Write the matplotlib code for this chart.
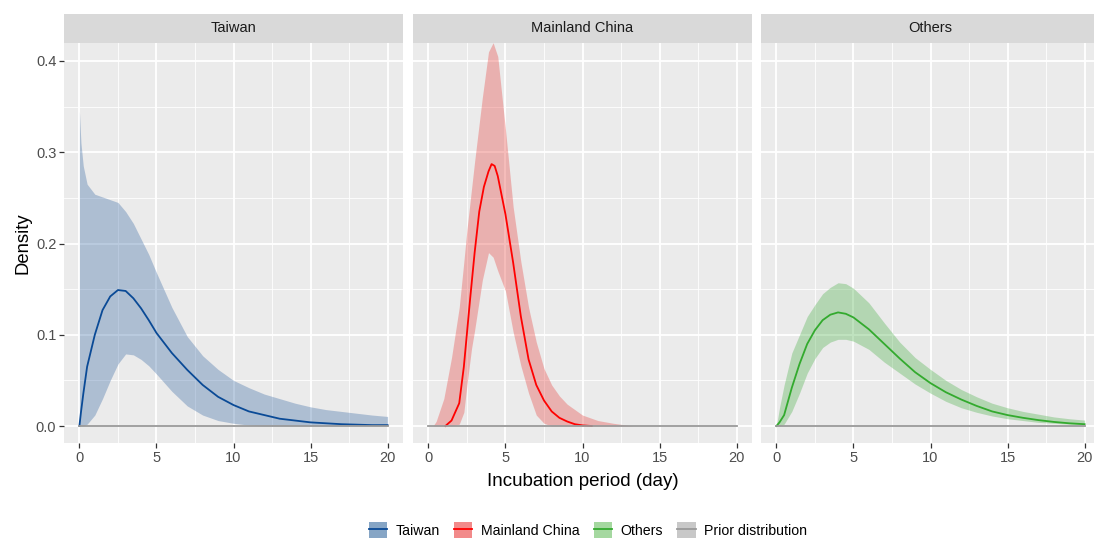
import matplotlib
matplotlib.use("Agg")
import matplotlib.pyplot as plt
from matplotlib.patches import Patch
from matplotlib.lines import Line2D

plt.rcParams['font.family'] = ['Liberation Sans', 'DejaVu Sans']

# Taiwan
tw_x = [0, 0.1, 0.25, 0.5, 1, 1.5, 2, 2.5, 3, 3.5, 4, 4.5, 5, 6, 7, 8, 9, 10, 11, 12, 13, 14, 15, 16, 17, 18, 19, 20]
tw_hi = [0.345, 0.31, 0.285, 0.265, 0.254, 0.251, 0.248, 0.245, 0.235, 0.222, 0.205, 0.188, 0.168, 0.13, 0.098, 0.077,
         0.062, 0.05, 0.042, 0.035, 0.03, 0.025, 0.021, 0.018, 0.016, 0.014, 0.012, 0.0105]
tw_lo = [0, 0, 0, 0.002, 0.012, 0.03, 0.05, 0.068, 0.079, 0.078, 0.073, 0.066, 0.057, 0.038, 0.022, 0.012,
         0.006, 0.003, 0.001, 0, 0, 0, 0, 0, 0, 0, 0, 0]
tw_med = [0, 0.015, 0.035, 0.065, 0.10, 0.127, 0.142, 0.149, 0.148, 0.14, 0.129, 0.116, 0.102, 0.08, 0.0615, 0.045,
          0.032, 0.023, 0.016, 0.012, 0.008, 0.006, 0.004, 0.003, 0.002, 0.0015, 0.001, 0.001]

# Mainland China
cn_x = [0.3, 0.5, 1, 1.5, 2, 2.3, 2.5, 2.8, 3, 3.5, 3.9, 4.2, 4.5, 5, 5.5, 6, 6.5, 7, 7.5, 8, 8.5, 9, 10, 11, 12, 13.3]
cn_hi = [0, 0.005, 0.03, 0.075, 0.13, 0.18, 0.215, 0.26, 0.29, 0.36, 0.41, 0.42, 0.405, 0.325, 0.24, 0.18, 0.13,
         0.092, 0.063, 0.045, 0.033, 0.024, 0.012, 0.006, 0.003, 0]
cn_lo = [0, 0, 0, 0, 0.002, 0.015, 0.045, 0.085, 0.105, 0.16, 0.19, 0.185, 0.17, 0.148, 0.103, 0.066, 0.036,
         0.012, 0.003, 0, 0, 0, 0, 0, 0, 0]
cn_mx = [1.1, 1.5, 2, 2.3, 2.7, 3, 3.3, 3.6, 3.9, 4.1, 4.3, 4.5, 5, 5.5, 6, 6.5, 7, 7.5, 8, 8.5, 9, 9.5, 10, 10.6]
cn_med = [0, 0.006, 0.025, 0.065, 0.138, 0.19, 0.235, 0.262, 0.279, 0.287, 0.285, 0.274, 0.232, 0.179, 0.12, 0.073,
          0.045, 0.028, 0.016, 0.009, 0.005, 0.002, 0.0007, 0]

# Others
ot_x = [0, 0.2, 0.5, 1, 1.5, 2, 2.5, 3, 3.5, 4, 4.5, 5, 6, 7, 8, 9, 10, 11, 12, 13, 14, 15, 16, 17, 18, 19, 20]
ot_hi = [0, 0.02, 0.045, 0.08, 0.1, 0.12, 0.133, 0.145, 0.152, 0.157, 0.156, 0.151, 0.135, 0.113, 0.092, 0.075,
         0.062, 0.05, 0.04, 0.032, 0.025, 0.02, 0.016, 0.013, 0.01, 0.008, 0.0065]
ot_lo = [0, 0, 0.002, 0.016, 0.036, 0.058, 0.074, 0.086, 0.092, 0.095, 0.095, 0.093, 0.084, 0.07, 0.058, 0.046,
         0.036, 0.027, 0.02, 0.015, 0.011, 0.008, 0.006, 0.004, 0.003, 0.002, 0.0015]
ot_med = [0, 0.004, 0.012, 0.042, 0.068, 0.09, 0.105, 0.116, 0.122, 0.1245, 0.123, 0.119, 0.106, 0.09, 0.074,
          0.059, 0.047, 0.037, 0.029, 0.022, 0.016, 0.012, 0.009, 0.0065, 0.0045, 0.003, 0.002]

prior_x = [0, 20]
prior_y = [0, 0]

panels = [
    ("Taiwan", tw_x, tw_lo, tw_hi, tw_x, tw_med, "#3b6ba5", "#0a4a96"),
    ("Mainland China", cn_x, cn_lo, cn_hi, cn_mx, cn_med, "#e8433f", "#ff0000"),
    ("Others", ot_x, ot_lo, ot_hi, ot_x, ot_med, "#4cb04a", "#33aa2e"),
]

fig = plt.figure(figsize=(10.94, 5.38), dpi=100)
W, H = 1094, 538
lefts = [64, 413, 761]
pw = 339
bottom, top = 443, 43

for i, (name, bx, lo, hi, mx, med, fcol, lcol) in enumerate(panels):
    ax = fig.add_axes([lefts[i] / W, 1 - bottom / H, pw / W, (bottom - top) / H])
    ax.set_facecolor("#ebebeb")
    for s in ax.spines.values():
        s.set_visible(False)
    ax.set_xlim(-1, 21)
    ax.set_ylim(-0.0186, 0.4197)
    ax.set_xticks([0, 5, 10, 15, 20])
    ax.set_xticks([2.5, 7.5, 12.5, 17.5], minor=True)
    ax.set_yticks([0.0, 0.1, 0.2, 0.3, 0.4])
    ax.set_yticks([0.05, 0.15, 0.25, 0.35], minor=True)
    ax.grid(which="major", color="white", lw=1.3)
    ax.grid(which="minor", color="white", lw=0.6)
    ax.set_axisbelow(True)
    ax.tick_params(which="major", length=3.5, width=0.9, color="#333333", labelcolor="#4d4d4d", labelsize=10.5, pad=2)
    ax.tick_params(which="minor", length=0)
    if i == 0:
        ax.set_yticklabels(["0.0", "0.1", "0.2", "0.3", "0.4"])
        ax.set_ylabel("Density", fontsize=13.3, labelpad=3)
    else:
        ax.tick_params(axis="y", which="major", length=0, labelleft=False)
    ax.fill_between(bx, lo, hi, color=fcol, alpha=0.35, lw=0)
    ax.plot(mx, med, color=lcol, lw=1.3)
    ax.plot(prior_x, prior_y, color="#999999", lw=1.3)
    if i == 1:
        ax.set_xlabel("Incubation period (day)", fontsize=13.5, labelpad=6)
    # strip
    sax = fig.add_axes([lefts[i] / W, 1 - top / H, pw / W, 29 / H])
    sax.set_facecolor("#d9d9d9")
    sax.set_xticks([])
    sax.set_yticks([])
    for s in sax.spines.values():
        s.set_visible(False)
    sax.text(0.5, 0.5, name, ha="center", va="center", fontsize=10.5, color="#1a1a1a", transform=sax.transAxes)

handles = []
labels = ["Taiwan", "Mainland China", "Others", "Prior distribution"]
keys = [("#86a5c5", "#0a4a96"), ("#f28a8a", "#ff0000"), ("#a5d8a0", "#33aa2e"), ("#c8c8c8", "#999999")]
for fc, lc in keys:
    handles.append((Patch(facecolor=fc, edgecolor="none"), Line2D([], [], color=lc, lw=1.3)))

fig.legend(handles, labels, loc="center", bbox_to_anchor=(588 / W, 1 - 530 / H), ncol=4, frameon=False,
           fontsize=10.2, handlelength=1.3, handleheight=1.3, columnspacing=1.0, handletextpad=0.6)

fig.savefig("out.png", dpi=100)
